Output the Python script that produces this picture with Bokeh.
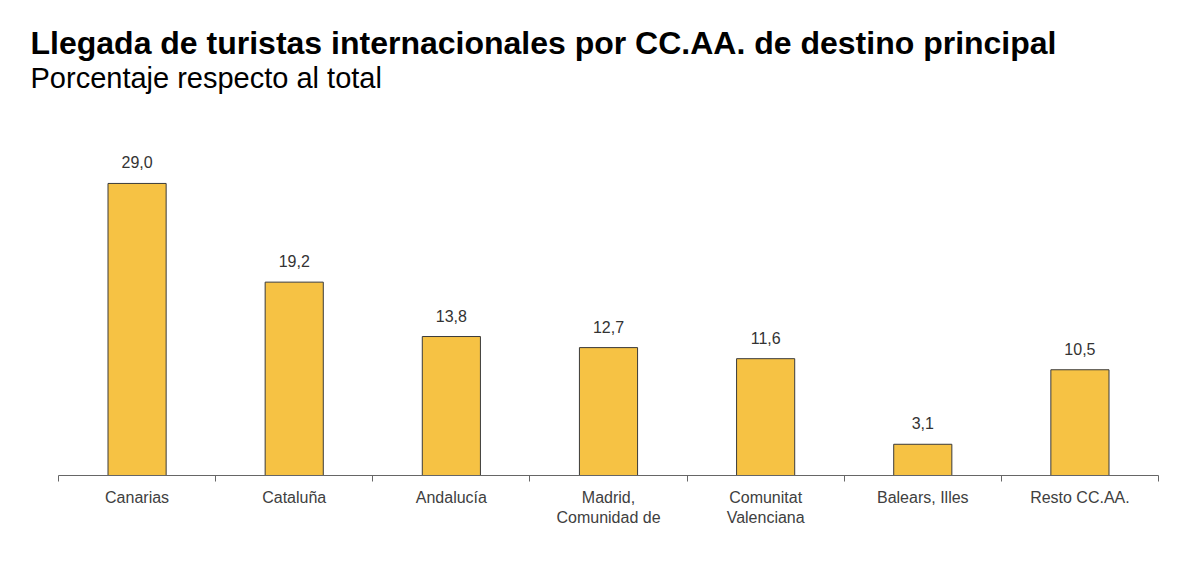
from bokeh.plotting import figure
from bokeh.models import FixedTicker, Label, ColumnDataSource, Range1d
from bokeh.embed import file_html
from bokeh.resources import INLINE
from bokeh.core.properties import value

categories = ["Canarias", "Cataluña", "Andalucía", "Madrid,\nComunidad de",
              "Comunitat\nValenciana", "Balears, Illes", "Resto CC.AA."]
values = [29.0, 19.2, 13.8, 12.7, 11.6, 3.1, 10.5]
value_labels = ["29,0", "19,2", "13,8", "12,7", "11,6", "3,1", "10,5"]
title_text = "Llegada de turistas internacionales por CC.AA. de destino principal"
subtitle_text = "Porcentaje respecto al total"

FONT = "Liberation Sans"
n = len(categories)
xs = [i + 0.5 for i in range(n)]

W, H = 1200, 580
AX_LEFT, AX_RIGHT = 58, 1158      # pixel span of the category axis
FRAME_BOTTOM = 475                # pixel row of the baseline
PX_PER_CAT = (AX_RIGHT - AX_LEFT) / n
PX_PER_UNIT = 355 / 35.25

x0 = -AX_LEFT / PX_PER_CAT
x1 = n + (W - AX_RIGHT) / PX_PER_CAT
y1 = FRAME_BOTTOM / PX_PER_UNIT

p = figure(width=W, height=H, output_backend="svg", toolbar_location=None,
           x_range=Range1d(x0, x1), y_range=Range1d(0, y1),
           min_border_left=0, min_border_right=0, min_border_top=0,
           min_border_bottom=H - FRAME_BOTTOM)
p.outline_line_color = None
p.grid.visible = False
p.yaxis.visible = False
p.background_fill_color = "white"
p.border_fill_color = "white"

src = ColumnDataSource(dict(x=xs, top=values, lab=value_labels))
p.vbar(x="x", top="top", width=0.37, bottom=0, source=src,
       fill_color="#F6C244", line_color="#3a3a3a", line_width=1)
p.text(x="x", y="top", text="lab", source=src, text_align="center",
       text_baseline="middle", y_offset=-21, text_font=value(FONT),
       text_font_size="16px", text_color="#333333")

ax = p.xaxis[0]
ax.bounds = (0, n)
ax.ticker = FixedTicker(ticks=xs, minor_ticks=list(range(n + 1)))
ax.major_label_overrides = {x: c for x, c in zip(xs, categories)}
ax.major_tick_out = 0
ax.major_tick_in = 0
ax.minor_tick_out = 6
ax.minor_tick_in = 0
ax.minor_tick_line_color = "#666666"
ax.axis_line_color = "#666666"
ax.major_label_standoff = 7
ax.major_label_text_font = FONT
ax.major_label_text_font_size = "16px"
ax.major_label_text_color = "#404040"

# screen units are relative to the frame's bottom-left corner
p.add_layout(Label(x=30, y=FRAME_BOTTOM - 42, x_units="screen", y_units="screen",
                   text=title_text, text_font=FONT, text_font_size="32px",
                   text_font_style="bold", text_color="#000000",
                   text_baseline="middle"))
p.add_layout(Label(x=30, y=FRAME_BOTTOM - 77, x_units="screen", y_units="screen",
                   text=subtitle_text, text_font=FONT, text_font_size="29px",
                   text_color="#000000", text_baseline="middle"))

open("out.html", "w").write(file_html(p, INLINE))
